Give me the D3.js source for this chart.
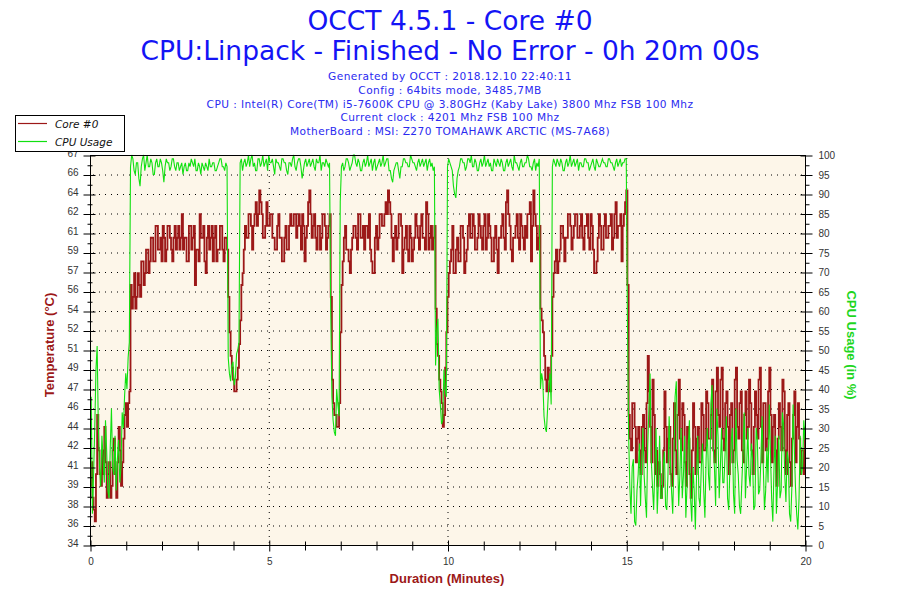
<!DOCTYPE html>
<html><head><meta charset="utf-8">
<script src="https://cdn.jsdelivr.net/npm/d3@7"></script>
<style>body{margin:0;background:#fff}svg{display:block}</style>
</head><body><svg id="c" width="900" height="600"></svg>
<script>
// ---------- data ----------
const sampleSeconds = 2;   // one reading every 2 s, 0 .. 1200 s
const coreTemp = [
39,41, 38,37, 36,40, 45,42, 40,39, 42,40, 44,41, 38,40, 41,38, 39,42, 43,40, 38,41, 44,42, 39,41, 43,45, 46,44, 46,47,
56,54, 55,57, 54,55, 57,56, 55,58, 58,56, 57,59, 59,57, 58,60, 60,58,
58,61, 61,59, 59,60, 58,61, 60,58, 59,61, 61,60, 59,58, 60,61, 59,60,
61,59, 60,62, 59,60, 60,58, 58,61, 61,59, 60,61, 56,59, 59,58, 62,60,
60,61, 58,57, 60,61, 59,60, 61,58, 60,61, 58,59, 59,61, 61,59, 58,60,
60,59,
55,52, 50,49, 48,47, 47,48, 49,51, 53,56,
57,59, 61,60, 60,62, 62,61, 59,61, 62,63, 61,62, 64,63, 62,60, 60,61,
63,61, 61,62, 62,60, 60,59, 59,61, 62,60, 60,58, 58,60, 61,59, 59,61,
62,61, 61,62, 62,60, 61,62, 61,59, 62,61, 58,60, 61,63, 64,62, 60,61,
62,60, 59,61, 61,59, 60,62, 62,61, 59,60, 61,62,
55,48, 46,45, 45,44, 44,46, 52,56,
58,60, 61,59, 59,58, 57,59, 60,61, 61,60, 59,62, 62,60, 60,61, 59,61,
61,60, 62,59, 58,57, 57,60, 61,59, 60,62, 62,61, 61,62, 63,62, 64,63,
62,60, 58,60, 61,59, 60,62, 62,61, 57,59, 60,61, 59,58, 61,60, 58,59,
60,62, 61,60, 59,61, 62,60, 60,59, 63,62, 59,60, 61,59, 60,61,
54,51, 50,48, 47,46, 44,45, 49,52, 55,57,
58,59, 61,57, 57,59, 60,58, 58,61, 61,60, 57,58, 59,61, 62,60, 60,62,
61,59, 59,60, 62,61, 60,59, 61,62, 59,60, 62,61, 60,58, 58,60, 61,59,
57,60, 60,61, 62,60, 59,63, 64,62, 61,59, 58,60, 60,61, 62,60, 59,62,
61,60, 59,61, 60,62, 62,63, 58,61, 64,62, 61,59, 60,61,
54,53, 52,50, 48,47, 49,48, 47,50, 55,57,
58,59, 57,58, 59,61, 61,60, 58,60, 60,62, 62,61, 59,60, 61,62, 62,60,
60,61, 62,60, 59,61, 61,62, 60,59, 62,61, 59,57, 57,58, 60,62, 61,59,
59,61, 62,60, 60,61, 61,62, 59,60, 62,63, 60,61, 61,62, 58,61, 62,63,
64,56,
45,43, 42,46, 46,44, 41,43, 44,42, 40,44, 45,42, 41,46, 50,47, 44,41,
48,45, 40,42, 39,41, 40,38, 39,42, 47,44, 41,43, 44,40, 39,43, 46,42,
40,45, 48,43, 42,46, 45,41, 39,44, 43,40, 38,42, 46,44, 40,43, 44,41,
41,46, 45,42, 42,47, 46,43, 43,45, 48,42, 41,47, 49,45, 44,48, 49,43,
42,46, 47,44, 40,45, 46,41, 42,48, 49,44, 43,46, 47,42, 41,45, 47,43,
44,48, 46,42, 40,44, 47,45, 43,48, 49,44, 41,46, 46,42, 43,47, 49,45,
41,44, 45,42, 39,43, 46,44, 42,48, 47,42, 40,45, 46,41, 39,43, 45,47,
41,44, 46,43, 40,42, 42,40,
44
];
const cpuUsage = [
25,38, 8,18, 30,45, 51,30, 20,15, 28,22, 16,32, 24,14, 12,25, 35,20, 18,28, 14,22, 27,16, 20,34, 30,38, 44,40, 48,52,
97,100, 99,96, 95,98, 98,94, 92,97, 99,100, 96,98, 100,97, 97,99, 98,95,
95,98, 99,97, 97,99, 98,96, 93,97, 99,98, 98,96, 97,99, 99,97, 96,98,
98,96, 97,98, 95,97, 98,96, 96,98, 97,99, 98,97, 99,96, 96,98, 97,95,
98,97, 96,98, 97,96, 99,97, 97,98, 98,96, 96,97, 98,99, 99,97, 97,96,
98,97,
48,44, 42,46, 47,41, 43,49, 50,52, 98,99,
96,98, 99,97, 98,100, 97,99, 100,97, 98,96, 96,99, 99,97, 98,100, 97,98,
99,96, 100,98, 98,99, 97,95, 99,98, 98,97, 96,99, 99,98, 98,96, 95,98,
98,97, 99,100, 97,96, 98,99, 99,97, 94,96, 98,99, 97,98, 99,97, 98,99,
97,96, 99,98, 98,100, 96,98, 98,97, 99,98, 97,98,
60,38, 32,29, 28,40, 36,33, 88,97,
98,96, 97,99, 99,98, 96,97, 98,100, 100,98, 97,99, 98,96, 96,98, 99,97,
98,100, 97,98, 99,96, 98,99, 96,97, 98,99, 97,98, 100,97, 98,99, 99,96,
96,94, 93,96, 97,98, 98,96, 94,97, 97,99, 99,98, 98,97, 97,100, 99,98,
98,97, 96,98, 99,97, 98,99, 97,98, 99,96, 98,99, 97,98, 96,97,
46,55, 58,40, 36,31, 32,45, 40,38, 97,99,
98,97, 96,92, 90,89, 94,96, 97,99, 99,98, 98,96, 97,99, 99,98, 100,97,
97,99, 98,96, 96,98, 99,97, 98,100, 97,98, 99,97, 98,96, 96,99, 98,97,
99,98, 97,99, 98,96, 96,98, 99,97, 98,99, 97,96, 100,98, 98,97, 96,98,
99,97, 97,98, 98,100, 99,97, 97,96, 98,99, 96,98, 97,99,
40,44, 42,33, 30,29, 35,41, 44,36, 97,99,
98,97, 99,98, 97,99, 98,96, 96,98, 99,97, 98,100, 97,98, 99,97, 98,99,
96,98, 98,97, 97,99, 99,98, 98,96, 97,98, 99,97, 96,99, 98,97, 97,98,
99,98, 98,97, 97,99, 99,98, 98,97, 96,98, 99,97, 98,99, 97,98, 98,99,
99,58,
28,15, 8,20, 22,6, 5,14, 18,26, 10,22, 30,18, 12,7, 25,35, 44,22,
15,9, 20,30, 8,16, 28,12, 12,20, 24,10, 9,18, 33,22, 14,8, 21,38,
42,25, 10,18, 30,12, 18,28, 7,15, 25,32, 12,6, 20,14, 4,18, 28,12,
10,20, 26,14, 7,22, 30,18, 14,36, 41,25, 20,10, 35,28, 12,20, 30,16,
16,24, 33,12, 9,20, 26,30, 13,8, 35,22, 18,10, 8,16, 24,34, 12,20,
30,18, 15,26, 22,9, 10,30, 27,13, 14,22, 33,20, 9,14, 25,16, 36,24,
12,6, 20,28, 8,16, 28,12, 14,34, 31,18, 11,24, 22,8, 6,15, 36,25,
15,8, 4,12, 28,18, 20,32,
27
];
const tempTickLabels = [34,36,38,39,41,42,44,46,47,49,51,52,54,56,57,59,61,62,64,66,67];
const cpuTicks = [0,5,10,15,20,25,30,35,40,45,50,55,60,65,70,75,80,85,90,95,100];
const minuteTicks = [0,1,2,3,4,5,6,7,8,9,10,11,12,13,14,15,16,17,18,19,20];
const minuteLabels = [0,5,10,15,20];
const titleLines = ["OCCT 4.5.1 - Core #0", "CPU:Linpack - Finished - No Error - 0h 20m 00s"];
const infoLines = [
  "Generated by OCCT : 2018.12.10 22:40:11",
  "Config : 64bits mode, 3485,7MB",
  "CPU : Intel(R) Core(TM) i5-7600K CPU @ 3.80GHz (Kaby Lake) 3800 Mhz FSB 100 Mhz",
  "Current clock : 4201 Mhz FSB 100 Mhz",
  "MotherBoard : MSI: Z270 TOMAHAWK ARCTIC (MS-7A68)"
];
const seriesNames = ["Core #0", "CPU Usage"];

// ---------- layout ----------
const RED = "#9c1818", GREEN = "#10e010";
const svg = d3.select("#c");
const P = {l: 90, r: 805, t: 155, b: 545};
const x = d3.scaleLinear().domain([0, 20]).range([P.l, P.r]);
const yT = d3.scaleLinear().domain([tempTickLabels[0], tempTickLabels[tempTickLabels.length-1]]).range([P.b, P.t]);
const yC = d3.scaleLinear().domain([0, 100]).range([P.b, P.t]);
const tempTickPos = tempTickLabels.map((d, i) => yT.invert(yC(cpuTicks[i])));

// titles
svg.selectAll("text.title").data(titleLines).join("text")
  .attr("x", 450).attr("y", (d, i) => 30 + i * 30)
  .attr("text-anchor", "middle").attr("font-family", "DejaVu Sans")
  .attr("font-size", 26.5).attr("fill", "#1414f5").text(d => d);
svg.selectAll("text.info").data(infoLines).join("text")
  .attr("x", 450).attr("y", (d, i) => 80 + i * 13.8)
  .attr("text-anchor", "middle").attr("font-family", "DejaVu Sans")
  .attr("font-size", 10.6).attr("letter-spacing", 0.42).attr("fill", "#2a2af0").text(d => d);

// plot background
svg.append("rect").attr("x", P.l).attr("y", P.t).attr("width", P.r - P.l).attr("height", P.b - P.t)
  .attr("fill", "#fdf6e9");

// dotted grid
const grid = svg.append("g").attr("stroke", "#000").attr("stroke-dasharray", "1,5").attr("stroke-width", 1);
grid.selectAll("line.h").data(cpuTicks.slice(1, -1)).join("line")
  .attr("x1", P.l + 3).attr("x2", P.r).attr("y1", d => yC(d) + 0.5).attr("y2", d => yC(d) + 0.5);
grid.selectAll("line.v").data(minuteLabels.slice(1, -1)).join("line")
  .attr("y1", P.t + 3).attr("y2", P.b).attr("x1", d => x(d) + 0.5).attr("x2", d => x(d) + 0.5);

// series
svg.append("clipPath").attr("id", "clip").append("rect")
  .attr("x", P.l).attr("y", P.t - 1).attr("width", P.r - P.l).attr("height", P.b - P.t + 2);
const tx = (d, i) => x(i * sampleSeconds / 60);
svg.append("path").attr("clip-path", "url(#clip)")
  .attr("d", d3.line().x(tx).y(d => yT(d)).curve(d3.curveStepAfter)(coreTemp))
  .attr("fill", "none").attr("stroke", RED).attr("stroke-width", 1.8);
svg.append("path").attr("clip-path", "url(#clip)")
  .attr("d", d3.line().x(tx).y(d => yC(d))(cpuUsage))
  .attr("fill", "none").attr("stroke", GREEN).attr("stroke-width", 1.1);

// frame
svg.append("rect").attr("x", P.l + 0.5).attr("y", P.t + 0.5).attr("width", P.r - P.l).attr("height", P.b - P.t)
  .attr("fill", "none").attr("stroke", "#000").attr("stroke-width", 1);

const tickFont = "Liberation Sans";
// left axis
const gL = svg.append("g").attr("transform", `translate(${P.l + 0.5},0.5)`);
gL.call(d3.axisLeft(yT).tickValues(tempTickPos).tickFormat((d, i) => tempTickLabels[i]).tickSize(7).tickPadding(5));
gL.selectAll(".tick line").attr("x1", 5);
gL.selectAll(".tick text").attr("dy", "0.05em");
const gLm = svg.append("g").attr("transform", `translate(${P.l + 0.5},0.5)`);
gLm.call(d3.axisLeft(yT).tickValues(d3.pairs(tempTickPos).map(p => (p[0] + p[1]) / 2)).tickFormat("").tickSize(3));
gLm.selectAll(".tick line").attr("x1", 2);
// right axis
const gR = svg.append("g").attr("transform", `translate(${P.r + 0.5},0.5)`);
gR.call(d3.axisRight(yC).tickValues(cpuTicks).tickSize(7).tickPadding(6));
gR.selectAll(".tick line").attr("x1", -5);
const gRm = svg.append("g").attr("transform", `translate(${P.r + 0.5},0.5)`);
gRm.call(d3.axisRight(yC).tickValues(d3.pairs(cpuTicks).map(p => (p[0] + p[1]) / 2)).tickFormat("").tickSize(4));
// bottom axis
const gB = svg.append("g").attr("transform", `translate(0.5,${P.b + 0.5})`);
gB.call(d3.axisBottom(x).tickValues(minuteTicks).tickFormat(d => minuteLabels.includes(d) ? d : "").tickSize(5).tickPadding(7));
gB.selectAll(".tick line").attr("y1", d => minuteLabels.includes(d) ? -5 : -4).attr("y2", d => minuteLabels.includes(d) ? 6 : 5);
[gL, gLm, gR, gRm, gB].forEach(g => {
  g.select(".domain").remove();
  g.selectAll(".tick line").attr("stroke", "#000");
  g.selectAll(".tick text").attr("font-family", tickFont).attr("font-size", 10).attr("fill", "#333");
});

// axis titles
svg.append("text").attr("transform", "translate(54,345) rotate(-90)")
  .attr("text-anchor", "middle").attr("font-family", "Liberation Sans Narrow, Liberation Sans")
  .attr("font-weight", "bold").attr("font-size", 13).attr("fill", RED).text("Temperature (°C)");
svg.append("text").attr("transform", "translate(847,345) rotate(90)")
  .attr("text-anchor", "middle").attr("font-family", "Liberation Sans Narrow, Liberation Sans")
  .attr("font-weight", "bold").attr("font-size", 13).attr("fill", "#1ed61e").text("CPU Usage (in %)");
svg.append("text").attr("x", 447).attr("y", 583)
  .attr("text-anchor", "middle").attr("font-family", "Liberation Sans Narrow, Liberation Sans")
  .attr("font-weight", "bold").attr("font-size", 13).attr("fill", RED).text("Duration (Minutes)");

// legend
const lg = svg.append("g");
lg.append("rect").attr("x", 15.5).attr("y", 115.5).attr("width", 109).attr("height", 36)
  .attr("fill", "#fff").attr("stroke", "#000");
const items = lg.selectAll("g.it").data(seriesNames).join("g")
  .attr("transform", (d, i) => `translate(0,${123.5 + i * 18})`);
items.append("line").attr("x1", 18).attr("x2", 47).attr("stroke", (d, i) => i ? GREEN : RED).attr("stroke-width", 1.2);
items.append("text").attr("x", 55).attr("y", 4).attr("font-family", "DejaVu Sans").attr("font-style", "italic")
  .attr("font-size", 10.5).attr("fill", "#111").text(d => d);
</script></body></html>
